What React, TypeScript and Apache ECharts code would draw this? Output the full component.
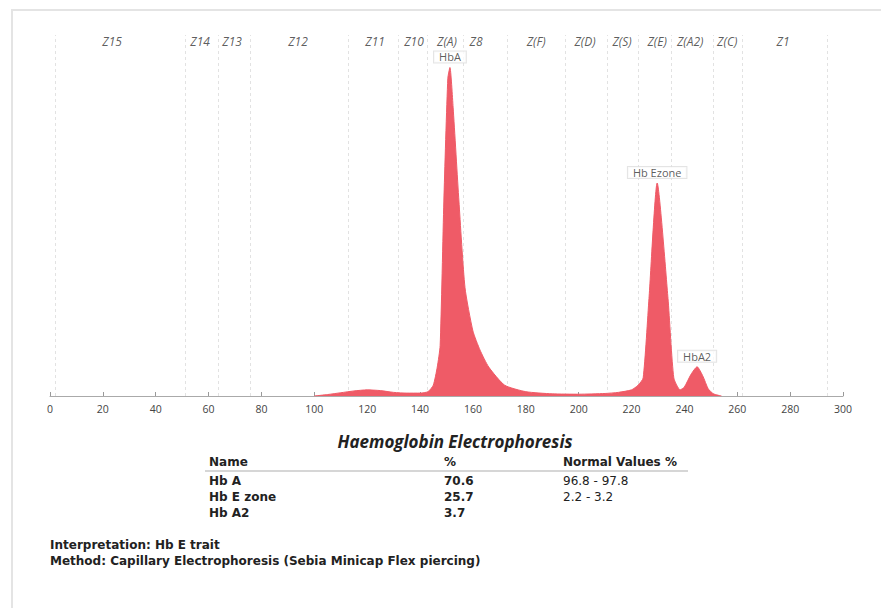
import React, { useEffect, useRef } from "react";
import * as echarts from "echarts";

const xTicks = [0, 20, 40, 60, 80, 100, 120, 140, 160, 180, 200, 220, 240, 260, 280, 300];
const zoneBoundaries = [1.8, 51, 63.6, 75.7, 112.7, 131.7, 142.6, 156.3, 173, 195, 211, 222.5, 235, 251, 262, 294];
const zoneNames = ["Z15", "Z14", "Z13", "Z12", "Z11", "Z10", "Z(A)", "Z8", "Z(F)", "Z(D)", "Z(S)", "Z(E)", "Z(A2)", "Z(C)", "Z1"];
const zoneCenters = [23.5, 56.8, 68.9, 93.8, 123, 137.7, 150.2, 161.2, 183.9, 202.4, 216.4, 229.7, 242.2, 256.2, 277.3];

const profileX = [100, 105, 110, 115, 120, 125, 130, 135, 140, 143, 145, 146.5, 147.6, 149, 150.5, 151.3, 152.5, 154.7, 157, 160, 162.7, 166, 172, 180, 190, 200, 210, 215, 220, 222.5, 224.4, 226.6, 229.7, 233.8, 236, 238.4, 240, 242.5, 244.8, 247, 249, 251, 254];
const profileY = [0, 0.4, 0.9, 1.4, 1.7, 1.5, 1.0, 0.8, 0.8, 1.2, 3, 8, 14, 54, 88, 91, 80, 54, 30, 18, 12.7, 8, 3, 1.2, 0.6, 0.5, 0.7, 1.0, 1.7, 3, 5, 27, 59, 27, 5, 1.7, 2.5, 6, 8.1, 5.5, 2, 0.6, 0];

const peakNames = ["HbA", "Hb Ezone", "HbA2"];
const peakX = [151.3, 229.7, 244.8];
const peakY = [91, 59, 8.1];

const tableTitle = "Haemoglobin Electrophoresis";
const tableHeaders = ["Name", "%", "Normal Values %"];
const tableNames = ["Hb A", "Hb E zone", "Hb A2"];
const tablePercents = ["70.6", "25.7", "3.7"];
const tableNormals = ["96.8 - 97.8", "2.2 - 3.2", ""];
const notes = ["Interpretation: Hb E trait", "Method: Capillary Electrophoresis (Sebia Minicap Flex piercing)"];

const FONT = "'Open Sans', 'Noto Sans', sans-serif";
const BODY = "'DejaVu Sans', sans-serif";

export default function App() {
  const ref = useRef<HTMLDivElement>(null);
  useEffect(() => {
    if (!ref.current) return;
    const chart = echarts.init(ref.current, undefined, { renderer: "svg" });
    const colX = [209, 444, 563];
    const rowY = [481, 497, 513];
    const graphics: any[] = [
      { type: "rect", shape: { x: 12, y: 10, width: 900, height: 700 }, style: { fill: "none", stroke: "#e4e4e4", lineWidth: 2 }, z: -1 },
      { type: "text", x: 455, y: 441, style: { text: tableTitle, font: `italic bold 17px ${FONT}`, fill: "#222", textAlign: "center", textVerticalAlign: "middle" } },
      { type: "line", shape: { x1: 205, y1: 471, x2: 688, y2: 471 }, style: { stroke: "#c8c8c8", lineWidth: 1.5 } },
    ];
    tableHeaders.forEach((h, i) => {
      graphics.push({ type: "text", x: colX[i], y: 462, style: { text: h, font: `bold 12px ${BODY}`, fill: "#222", textVerticalAlign: "middle" } });
    });
    tableNames.forEach((n, r) => {
      graphics.push({ type: "text", x: colX[0], y: rowY[r], style: { text: n, font: `bold 12px ${BODY}`, fill: "#222", textVerticalAlign: "middle" } });
      graphics.push({ type: "text", x: colX[1], y: rowY[r], style: { text: tablePercents[r], font: `bold 12px ${BODY}`, fill: "#222", textVerticalAlign: "middle" } });
      if (tableNormals[r]) {
        graphics.push({ type: "text", x: colX[2], y: rowY[r], style: { text: tableNormals[r], font: `12px ${BODY}`, fill: "#222", textVerticalAlign: "middle" } });
      }
    });
    notes.forEach((t, i) => {
      graphics.push({ type: "text", x: 50, y: 545 + i * 16, style: { text: t, font: `bold 12px ${BODY}`, fill: "#222", textVerticalAlign: "middle" } });
    });

    chart.setOption({
      animation: false,
      backgroundColor: "#fff",
      grid: { left: 50, right: 38, top: 35, bottom: 212 },
      xAxis: {
        type: "value",
        min: 0,
        max: 300,
        interval: 20,
        axisLine: { show: true, lineStyle: { color: "#aaa", width: 1 } },
        axisTick: { show: true, inside: true, length: 4, lineStyle: { color: "#999" } },
        axisLabel: { color: "#444", fontSize: 10.5, fontFamily: FONT, margin: 7, showMinLabel: true, showMaxLabel: true },
        splitLine: { show: false },
      },
      yAxis: { type: "value", min: 0, max: 100, show: false, splitLine: { show: false } },
      series: [
        {
          type: "line",
          data: profileX.map((x, i) => [x, profileY[i]]),
          smooth: 0.2,
          symbol: "none",
          lineStyle: { color: "#ef5b67", width: 1 },
          areaStyle: { color: "#ef5b67", opacity: 1 },
          z: 3,
          markLine: {
            silent: true,
            symbol: "none",
            label: { show: false },
            lineStyle: { color: "#e2e2e2", type: [3, 3], width: 1 },
            data: zoneBoundaries.map((b) => ({ xAxis: b })),
            z: 1,
          },
        },
        {
          type: "scatter",
          symbolSize: 0,
          data: zoneCenters.map((c, i) => ({ value: [c, 100], name: zoneNames[i] })),
          label: {
            show: true,
            position: "inside",
            offset: [0, 6],
            formatter: (p: any) => p.name,
            fontStyle: "italic",
            fontSize: 12,
            fontFamily: FONT,
            color: "#333",
          },
          z: 4,
        },
        {
          type: "scatter",
          symbolSize: 0,
          data: peakX.map((x, i) => ({ value: [x, peakY[i]], name: peakNames[i] })),
          label: {
            show: true,
            position: "top",
            distance: 5,
            formatter: (p: any) => p.name,
            fontSize: 11,
            fontFamily: FONT,
            color: "#333",
            backgroundColor: "#fff",
            borderColor: "#ddd",
            borderWidth: 1,
            padding: [0, 5, 0, 5],
          },
          z: 5,
        },
      ],
      graphic: graphics,
    });
    return () => chart.dispose();
  }, []);
  return <div ref={ref} style={{ position: "absolute", left: 0, top: 0, width: 881, height: 608 }} />;
}
